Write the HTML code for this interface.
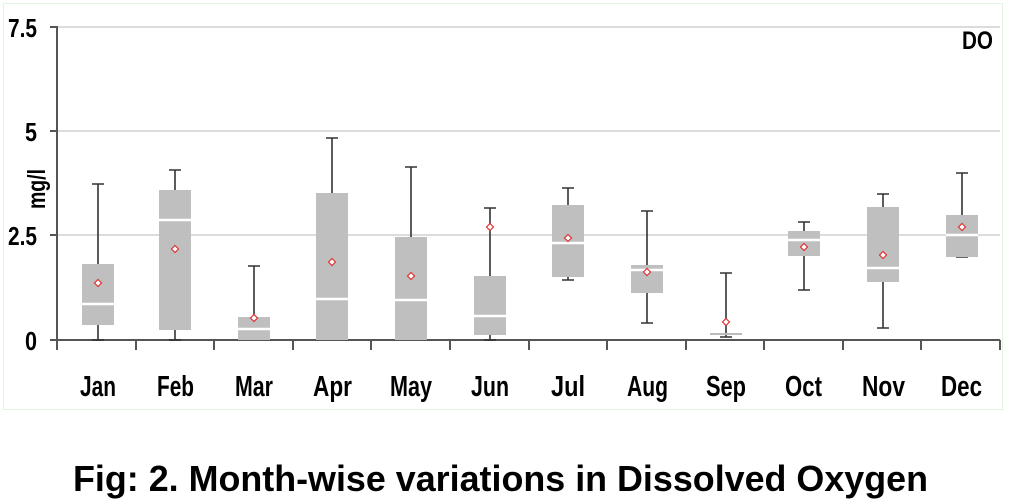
<!DOCTYPE html>
<html><head><meta charset="utf-8"><style>
html,body{margin:0;padding:0;background:#fff;}
svg{display:block;font-family:"Liberation Sans",Arial,sans-serif;}
</style></head><body>
<svg width="1010" height="504" viewBox="0 0 1010 504">
<rect x="3.5" y="3.5" width="999" height="406" fill="none" stroke="#e2f5e2" stroke-width="1"/>
<g stroke="#d0d0d0" stroke-width="1.5">
<line x1="57" y1="27" x2="1000" y2="27"/>
<line x1="57" y1="131" x2="1000" y2="131"/>
<line x1="57" y1="235" x2="1000" y2="235"/>
</g>
<g stroke="#555" stroke-width="2">
<line x1="57" y1="26" x2="57" y2="350"/>
<line x1="50" y1="27" x2="57" y2="27"/>
<line x1="50" y1="131" x2="57" y2="131"/>
<line x1="50" y1="235" x2="57" y2="235"/>
<line x1="50" y1="340" x2="1000" y2="340"/>
<line x1="136" y1="340" x2="136" y2="350"/>
<line x1="214" y1="340" x2="214" y2="350"/>
<line x1="293" y1="340" x2="293" y2="350"/>
<line x1="371" y1="340" x2="371" y2="350"/>
<line x1="450" y1="340" x2="450" y2="350"/>
<line x1="529" y1="340" x2="529" y2="350"/>
<line x1="607" y1="340" x2="607" y2="350"/>
<line x1="686" y1="340" x2="686" y2="350"/>
<line x1="764" y1="340" x2="764" y2="350"/>
<line x1="843" y1="340" x2="843" y2="350"/>
<line x1="921" y1="340" x2="921" y2="350"/>
<line x1="1000" y1="340" x2="1000" y2="350"/>
</g>
<g font-weight="bold" font-size="26" fill="#000">
<text x="8" y="37" textLength="29" lengthAdjust="spacingAndGlyphs">7.5</text>
<text x="25" y="141" textLength="12" lengthAdjust="spacingAndGlyphs">5</text>
<text x="8" y="245" textLength="29" lengthAdjust="spacingAndGlyphs">2.5</text>
<text x="25" y="350" textLength="12" lengthAdjust="spacingAndGlyphs">0</text>
</g>
<text transform="translate(45,209) rotate(-90)" font-weight="bold" font-size="25" textLength="40" lengthAdjust="spacingAndGlyphs">mg/l</text>
<text x="962" y="49" font-weight="bold" font-size="25" textLength="31" lengthAdjust="spacingAndGlyphs">DO</text>

<g stroke="#333" stroke-width="1.6" fill="none">
<path d="M98 184V340M92 184H104M92 340H104"/>
<path d="M175 170V340M169 170H181M169 340H181"/>
<path d="M254 266V340M248 266H260"/>
<path d="M332 138V340M326 138H338"/>
<path d="M411 167V340M405 167H417"/>
<path d="M490 208V340M484 208H496M484 340H496"/>
<path d="M568 188V280M562 188H574M562 280H574"/>
<path d="M647 211V323M641 211H653M641 323H653"/>
<path d="M726 273V337M720 273H732M720 337H732"/>
<path d="M804 222V290M798 222H810M798 290H810"/>
<path d="M883 194V328M877 194H889M877 328H889"/>
<path d="M962 173V257M956 173H968M956 257H968"/>
</g>
<g fill="#bfbfbf">
<rect x="82" y="264" width="32" height="61"/>
<rect x="159" y="190" width="32" height="140"/>
<rect x="238" y="317" width="32" height="23"/>
<rect x="316" y="193" width="32" height="147"/>
<rect x="395" y="237" width="32" height="103"/>
<rect x="474" y="276" width="32" height="59"/>
<rect x="552" y="205" width="32" height="72"/>
<rect x="631" y="265" width="32" height="28"/>
<rect x="788" y="231" width="32" height="25"/>
<rect x="867" y="207" width="32" height="75"/>
<rect x="946" y="215" width="32" height="42"/>
</g>
<g stroke="#fff" stroke-width="2.5">
<line x1="82" y1="304" x2="114" y2="304"/>
<line x1="159" y1="220" x2="191" y2="220"/>
<line x1="238" y1="329" x2="270" y2="329"/>
<line x1="316" y1="299" x2="348" y2="299"/>
<line x1="395" y1="300" x2="427" y2="300"/>
<line x1="474" y1="316" x2="506" y2="316"/>
<line x1="552" y1="243" x2="584" y2="243"/>
<line x1="631" y1="270" x2="663" y2="270"/>
<line x1="788" y1="240" x2="820" y2="240"/>
<line x1="867" y1="268" x2="899" y2="268"/>
<line x1="946" y1="235" x2="978" y2="235"/>
</g>
<line x1="710" y1="334" x2="742" y2="334" stroke="#bbb" stroke-width="2"/>
<g fill="#fff" stroke="#e03030" stroke-width="1.2">
<polygon points="98,279.5 101.5,283 98,286.5 94.5,283"/>
<polygon points="175,245.5 178.5,249 175,252.5 171.5,249"/>
<polygon points="254,314.5 257.5,318 254,321.5 250.5,318"/>
<polygon points="332,258.5 335.5,262 332,265.5 328.5,262"/>
<polygon points="411,272.5 414.5,276 411,279.5 407.5,276"/>
<polygon points="490,223.5 493.5,227 490,230.5 486.5,227"/>
<polygon points="568,234.5 571.5,238 568,241.5 564.5,238"/>
<polygon points="647,268.5 650.5,272 647,275.5 643.5,272"/>
<polygon points="726,318.5 729.5,322 726,325.5 722.5,322"/>
<polygon points="804,243.5 807.5,247 804,250.5 800.5,247"/>
<polygon points="883,251.5 886.5,255 883,258.5 879.5,255"/>
<polygon points="962,223.5 965.5,227 962,230.5 958.5,227"/>
</g>
<g font-weight="bold" font-size="29" fill="#000">
<text x="80" y="396" textLength="36" lengthAdjust="spacingAndGlyphs">Jan</text>
<text x="157" y="396" textLength="37" lengthAdjust="spacingAndGlyphs">Feb</text>
<text x="235" y="396" textLength="38" lengthAdjust="spacingAndGlyphs">Mar</text>
<text x="313" y="396" textLength="39" lengthAdjust="spacingAndGlyphs">Apr</text>
<text x="390" y="396" textLength="42" lengthAdjust="spacingAndGlyphs">May</text>
<text x="471" y="396" textLength="38" lengthAdjust="spacingAndGlyphs">Jun</text>
<text x="551" y="396" textLength="34" lengthAdjust="spacingAndGlyphs">Jul</text>
<text x="627" y="396" textLength="41" lengthAdjust="spacingAndGlyphs">Aug</text>
<text x="706" y="396" textLength="40" lengthAdjust="spacingAndGlyphs">Sep</text>
<text x="785" y="396" textLength="37" lengthAdjust="spacingAndGlyphs">Oct</text>
<text x="862" y="396" textLength="43" lengthAdjust="spacingAndGlyphs">Nov</text>
<text x="941" y="396" textLength="41" lengthAdjust="spacingAndGlyphs">Dec</text>
</g>
<text x="73" y="491" font-weight="bold" font-size="36" textLength="855" lengthAdjust="spacingAndGlyphs">Fig: 2. Month-wise variations in Dissolved Oxygen</text>
</svg>
</body></html>
